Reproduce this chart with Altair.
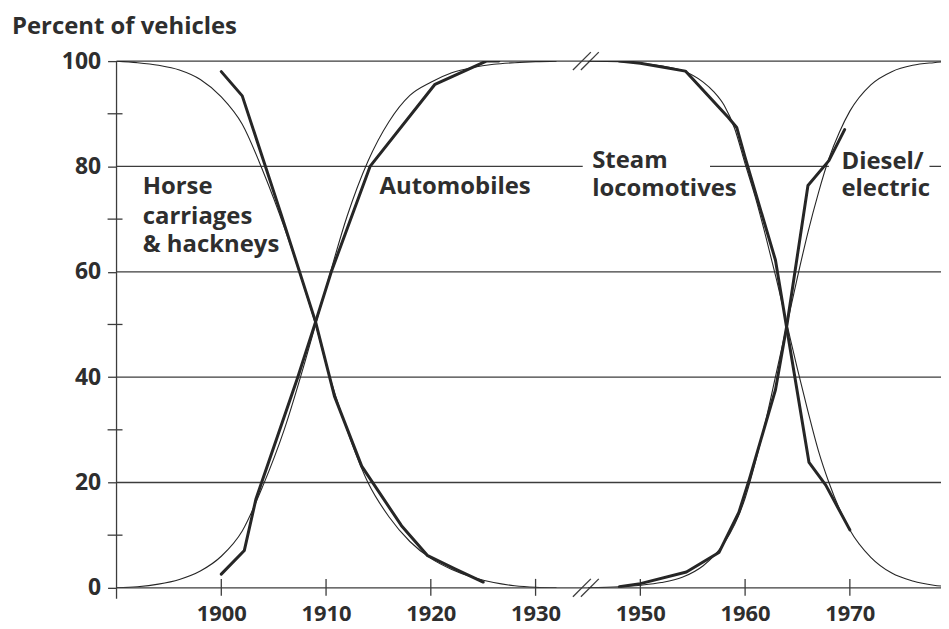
import altair as alt
import pandas as pd

# ---------------- data ----------------
# fitted (thin) curves
horse_fit_years = [1890, 1892, 1894, 1896, 1898, 1900, 1902, 1904, 1906, 1908, 1909, 1910,
                   1912, 1914, 1916, 1918, 1920, 1922, 1924, 1926, 1928, 1930, 1932]
horse_fit_vals = [100, 99.7, 99.2, 98.3, 96.5, 93.2, 88.0, 79.0, 68.5, 56.5, 50, 42.5,
                  30, 20, 13.5, 8.8, 5.6, 3.5, 2.0, 1.0, 0.4, 0.1, 0]
auto_fit_years = horse_fit_years
auto_fit_vals = [0, 0.2, 0.7, 1.6, 3.2, 6.0, 10.8, 19.5, 30, 43, 50, 57,
                 70.5, 81, 88.5, 93.5, 96, 97.8, 98.8, 99.4, 99.7, 99.9, 100]

steam_fit_years = [1945, 1948, 1950, 1952, 1954, 1956, 1957, 1958, 1959, 1960, 1961, 1962,
                   1963, 1964, 1965, 1966, 1967, 1968, 1969, 1970, 1972, 1974, 1976, 1978, 1980]
steam_fit_vals = [100, 99.9, 99.6, 99.1, 98.2, 96.0, 94.2, 91.6, 87.2, 80.5, 74, 66.5,
                  58.5, 50, 41.5, 33.5, 26, 20, 15, 11, 5.8, 2.8, 1.3, 0.5, 0.2]
diesel_fit_years = steam_fit_years
diesel_fit_vals = [0, 0.2, 0.5, 1.0, 2.0, 4.2, 6.0, 8.5, 12, 17, 24, 32,
                   41, 50, 59, 67.5, 75, 81.5, 86.5, 90.5, 95.5, 98, 99.2, 99.7, 100]

# observed (thick) data
horse_years = [1900, 1902, 1905.7, 1909, 1910.8, 1913.4, 1917.2, 1919.7, 1922.3, 1925]
horse_vals = [98, 93.4, 71, 50.5, 36.4, 23.1, 11.8, 6.1, 3.6, 1.1]
auto_years = [1900, 1902.2, 1903.3, 1907.3, 1909, 1910.5, 1914.2, 1920.4, 1925.3, 1926.5]
auto_vals = [2.6, 7.1, 16.8, 40, 50.5, 60, 80, 95.6, 100, 100]
steam_years = [1948, 1950, 1954.3, 1958.4, 1959.2, 1960, 1962.9, 1964, 1966.1, 1967.7, 1970]
steam_vals = [100, 99.6, 98.1, 89.3, 87.4, 81.7, 62.2, 49, 23.8, 19.5, 11]
diesel_years = [1948, 1950, 1954.4, 1957.5, 1959.4, 1960.4, 1962.9, 1964, 1966.0, 1968.0, 1969.5]
diesel_vals = [0.2, 0.8, 3.0, 6.7, 14.3, 20.6, 37.6, 50, 76.4, 81.1, 87]

# axis
tick_years = [1900, 1910, 1920, 1930, 1950, 1960, 1970]
y_major = [0, 20, 40, 60, 80, 100]
y_minor = [10, 30, 50, 70, 90]
title_text = "Percent of vehicles"

label_texts = ["Horse", "carriages", "& hackneys", "Automobiles",
               "Steam", "locomotives", "Diesel/", "electric"]
label_years = [1892.5, 1892.5, 1892.5, 1915.1, 1945.4, 1945.4, 1969.2, 1969.2]
label_vals = [74.7, 69.0, 63.7, 74.7, 79.8, 74.4, 79.6, 74.3]

# gaps of the 80 % line around the labels (years)
seg80_start = [1890, 1956.65, 1977.6]
seg80_end = [1934.5, 1968.0, 1980]
break_year = 1934.8   # position of the // axis break


# broken axis: years after the gap (1945+) are shifted left by a decade
def to_pos(y):
    return y - 10 if y >= 1940 else y


rows = []
for name, ys, vs in [("horse", horse_fit_years, horse_fit_vals),
                     ("auto", auto_fit_years, auto_fit_vals),
                     ("steam", steam_fit_years, steam_fit_vals),
                     ("diesel", diesel_fit_years, diesel_fit_vals)]:
    for y, v in zip(ys, vs):
        rows.append({"series": name, "pos": to_pos(y), "value": v})
fit_df = pd.DataFrame(rows)

rows = []
for name, ys, vs in [("horse", horse_years, horse_vals),
                     ("auto", auto_years, auto_vals),
                     ("steam", steam_years, steam_vals),
                     ("diesel", diesel_years, diesel_vals)]:
    for y, v in zip(ys, vs):
        rows.append({"series": name, "pos": to_pos(y), "value": v})
obs_df = pd.DataFrame(rows)

lab_df = pd.DataFrame({"text": label_texts,
                       "pos": [to_pos(y) for y in label_years],
                       "value": label_vals})
tick_df = pd.DataFrame({"pos": [to_pos(y) for y in tick_years]})
grid_df = pd.DataFrame({"value": [0, 20, 40, 60, 100]})
minor_df = pd.DataFrame({"value": y_minor})
seg_df = pd.DataFrame({"pos": [to_pos(v) for v in seg80_start],
                       "pos2": [to_pos(v) for v in seg80_end],
                       "value": [80] * 3})
brk_df = pd.DataFrame({"pos": [break_year, break_year], "value": [100, 0]})
title_df = pd.DataFrame({"t": [title_text]})

# ---------------- styling ----------------
FONT = "Open Sans"
TXT = "#2e2e2e"
LINE = "#262626"
GRID = "#3c3c3c"
W, H = 828, 529

xscale = alt.Scale(domain=[1890, 1968.7], nice=False, zero=False)
yscale = alt.Scale(domain=[0, 100], nice=False, zero=False)

xaxis = alt.Axis(values=[to_pos(y) for y in tick_years],
                 labelExpr="datum.value >= 1940 ? '' + (datum.value + 10) : '' + datum.value",
                 title=None, domain=False, ticks=False, grid=False,
                 labelFont=FONT, labelFontSize=22, labelFontWeight="bold", labelColor=TXT,
                 labelPadding=16, labelFlush=False, labelOverlap=False)
yaxis = alt.Axis(values=y_major, title=None, domain=False, ticks=True, tickSize=9,
                 tickColor=GRID, tickWidth=1.3, grid=False,
                 labelFont=FONT, labelFontSize=23, labelFontWeight="bold", labelColor=TXT,
                 labelPadding=7, labelFlush=False, labelOverlap=False)


def X(field="pos"):
    return alt.X(f"{field}:Q", scale=xscale, axis=xaxis)


def Y(field="value"):
    return alt.Y(f"{field}:Q", scale=yscale, axis=yaxis)


grid = alt.Chart(grid_df).mark_rule(color=GRID, strokeWidth=1.3).encode(y=Y())
seg80 = alt.Chart(seg_df).mark_rule(color=GRID, strokeWidth=1.3, clip=True).encode(
    x=X(), x2="pos2:Q", y=Y())
yline = alt.Chart(grid_df.head(1)).mark_rule(color=GRID, strokeWidth=1.3).encode(
    x=alt.value(0), y=alt.value(0), y2=alt.value(H + 11))
minor = alt.Chart(minor_df).mark_rule(color=GRID, strokeWidth=1.3).encode(
    x=alt.value(-9), x2=alt.value(6), y=Y())
xticks = alt.Chart(tick_df).mark_rule(color=GRID, strokeWidth=1.3).encode(
    x=X(), y=alt.value(H - 9), y2=alt.value(H + 8))
brk1 = alt.Chart(brk_df).mark_rule(color=GRID, strokeWidth=1.3, xOffset=-13, x2Offset=5,
                                   yOffset=9, y2Offset=-9).encode(
    x=X(), x2="pos:Q", y=Y(), y2="value:Q")
brk2 = alt.Chart(brk_df).mark_rule(color=GRID, strokeWidth=1.3, xOffset=-5, x2Offset=13,
                                   yOffset=9, y2Offset=-9).encode(
    x=X(), x2="pos:Q", y=Y(), y2="value:Q")

fit = alt.Chart(fit_df).mark_line(color=LINE, strokeWidth=1.1, interpolate="monotone",
                                  clip=True).encode(x=X(), y=Y(), detail="series:N")
obs = alt.Chart(obs_df).mark_line(color=LINE, strokeWidth=3, clip=True,
                                  strokeJoin="round", strokeCap="round").encode(
    x=X(), y=Y(), detail="series:N")

labels = alt.Chart(lab_df).mark_text(font=FONT, fontSize=24, fontWeight="bold", color=TXT,
                                     align="left", baseline="alphabetic").encode(
    x=X(), y=Y(), text="text:N")
title = alt.Chart(title_df).mark_text(font=FONT, fontSize=24, fontWeight="bold", color=TXT,
                                      align="left", baseline="alphabetic").encode(
    x=alt.value(-105), y=alt.value(-27), text="t:N")

chart = alt.layer(grid, seg80, yline, minor, xticks, brk1, brk2, fit, obs, labels, title).properties(
    width=W, height=H,
    autosize=alt.AutoSizeParams(type="none"),
    padding={"left": 109, "top": 52, "right": 0, "bottom": 38},
    background="white",
).configure_view(stroke=None)

chart.save("out.html", embed_options={"renderer": "svg", "actions": False})
